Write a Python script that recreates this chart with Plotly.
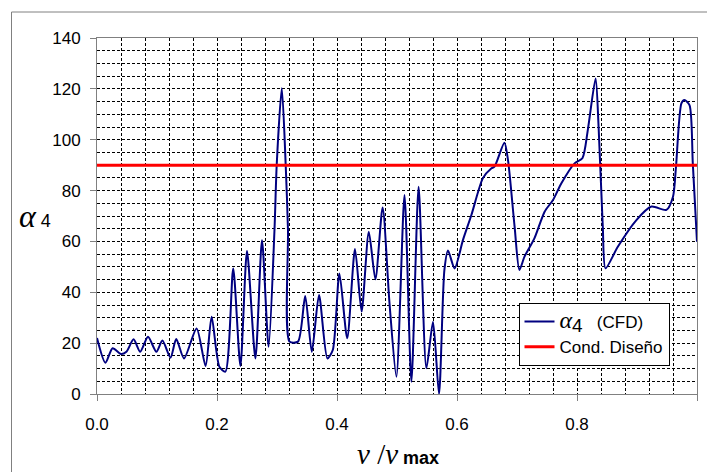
import plotly.graph_objects as go

# ---- data ----
v_ratio = [0.0, 0.014, 0.026, 0.040, 0.049, 0.061, 0.072, 0.085, 0.099, 0.109,
           0.1225, 0.132, 0.145, 0.166, 0.181, 0.191, 0.204, 0.214, 0.227, 0.239,
           0.250, 0.264, 0.275, 0.286, 0.2958, 0.2995, 0.308, 0.3145, 0.3183, 0.321,
           0.335, 0.347, 0.358, 0.370, 0.384, 0.393, 0.404, 0.417, 0.430, 0.441,
           0.453, 0.464, 0.476, 0.4875, 0.499, 0.5125, 0.524, 0.536, 0.549, 0.560,
           0.570, 0.579, 0.585, 0.596, 0.610, 0.624, 0.643, 0.657, 0.6625, 0.679,
           0.685, 0.696, 0.704, 0.7125, 0.729, 0.746, 0.760, 0.774, 0.796, 0.809,
           0.818, 0.831, 0.836, 0.843, 0.8475, 0.868, 0.899, 0.924, 0.949, 0.960,
           0.965, 0.974, 0.979, 0.9875, 0.993, 1.0]
alpha4_cfd = [22, 12.3, 18, 15.7, 16.6, 21.5, 16.6, 22.5, 16.6, 21,
              14.3, 21.6, 14, 25.8, 11, 30.4, 10.7, 8.8, 49.4, 11,
              56.2, 14, 60.5, 18.6, 64.5, 90, 120.2, 90, 64.5, 20.6,
              20.6, 38.5, 16.6, 38.9, 14, 17.3, 47.4, 21.9, 57, 32.4,
              63.8, 45.1, 73.3, 35.7, 6.8, 78.3, 4.8, 81.5, 10.1, 28.4,
              0, 48.8, 56.4, 49.4, 60.6, 70.4, 84.8, 88.7, 89.4, 98.8,
              92, 65.8, 48.8, 54, 61.2, 71.7, 76.3, 82.9, 90.7, 92.7,
              103.8, 124.1, 105, 65.8, 49.4, 57.9, 68.4, 73.7, 72.4, 77.6,
              89.4, 114.3, 115.6, 113.6, 90.7, 59.9]
design_x = [0.0, 1.0]
design_y = [90, 90]

x_ticks = [0.0, 0.2, 0.4, 0.6, 0.8, 1.0]
y_ticks = [0, 20, 40, 60, 80, 100, 120, 140]

fig = go.Figure()
fig.add_trace(go.Scatter(
    x=v_ratio, y=alpha4_cfd, mode="lines",
    line=dict(color="#000080", width=2, shape="spline", smoothing=0.7),
    name="<span style='font-family:Liberation Serif;font-size:24px'><i>α</i></span>"
         "<sub><span style='font-size:19px'>4</span></sub>   (CFD)",
))
fig.add_trace(go.Scatter(
    x=design_x, y=design_y, mode="lines",
    line=dict(color="#ff0000", width=3),
    name="Cond. Diseño",
))

grid_common = dict(gridcolor="black", gridwidth=1, griddash="3px,2px")

fig.update_xaxes(
    range=[0, 1], tickvals=x_ticks, tickformat=".1f",
    showgrid=True, **grid_common,
    minor=dict(dtick=0.04, showgrid=True, gridcolor="black", gridwidth=1,
               griddash="3px,2px", ticks=""),
    ticks="outside", ticklen=6, tickcolor="#808080", tickwidth=1,
    showline=True, linecolor="#808080", linewidth=1, mirror=True,
    zeroline=False, ticklabelstandoff=9,
    tickfont=dict(family="Liberation Sans, Arial", size=17, color="black"),
)
fig.update_yaxes(
    range=[0, 140], tickvals=y_ticks,
    showgrid=True, **grid_common,
    minor=dict(dtick=5, showgrid=True, gridcolor="black", gridwidth=1,
               griddash="3px,2px", ticks=""),
    ticks="outside", ticklen=6, tickcolor="#808080", tickwidth=1,
    showline=True, linecolor="#808080", linewidth=1, mirror=True,
    zeroline=False, ticklabelstandoff=6,
    tickfont=dict(family="Liberation Sans, Arial", size=17, color="black"),
)

fig.update_layout(
    width=707, height=472,
    margin=dict(l=97, r=10, t=38, b=78),
    paper_bgcolor="white", plot_bgcolor="white",
    font=dict(family="Liberation Sans, Arial", size=17, color="black"),
    showlegend=True,
    legend=dict(x=0.7025, y=0.2556, xanchor="left", yanchor="top",
                bgcolor="white", bordercolor="black", borderwidth=1,
                font=dict(family="Liberation Sans, Arial", size=17, color="black"),
                itemwidth=30, tracegroupgap=0),
    annotations=[
        dict(xref="paper", yref="paper", x=-0.104, y=0.50, showarrow=False,
             xanchor="center", yanchor="middle",
             text="<span style='font-family:Liberation Serif;font-size:32px'><i>α</i></span>"
                  "<span style='font-size:18px'> 4</span>"),
        dict(xref="paper", yref="paper", x=0.502, y=-0.168, showarrow=False,
             xanchor="center", yanchor="middle",
             text="<span style='font-family:Liberation Serif;font-size:29px'><i>ν</i> /<i>ν</i></span>"
                  "<span style='font-size:18px'><b> max</b></span>"),
    ],
    shapes=[
        dict(type="line", xref="paper", yref="paper",
             x0=-0.1425, x1=-0.1425, y0=1.073, y1=-0.3, line=dict(color="#808080", width=1)),
        dict(type="line", xref="paper", yref="paper",
             x0=-0.1425, x1=1.05, y0=1.073, y1=1.073, line=dict(color="#808080", width=1)),
    ],
)

fig.write_html("out.html")
